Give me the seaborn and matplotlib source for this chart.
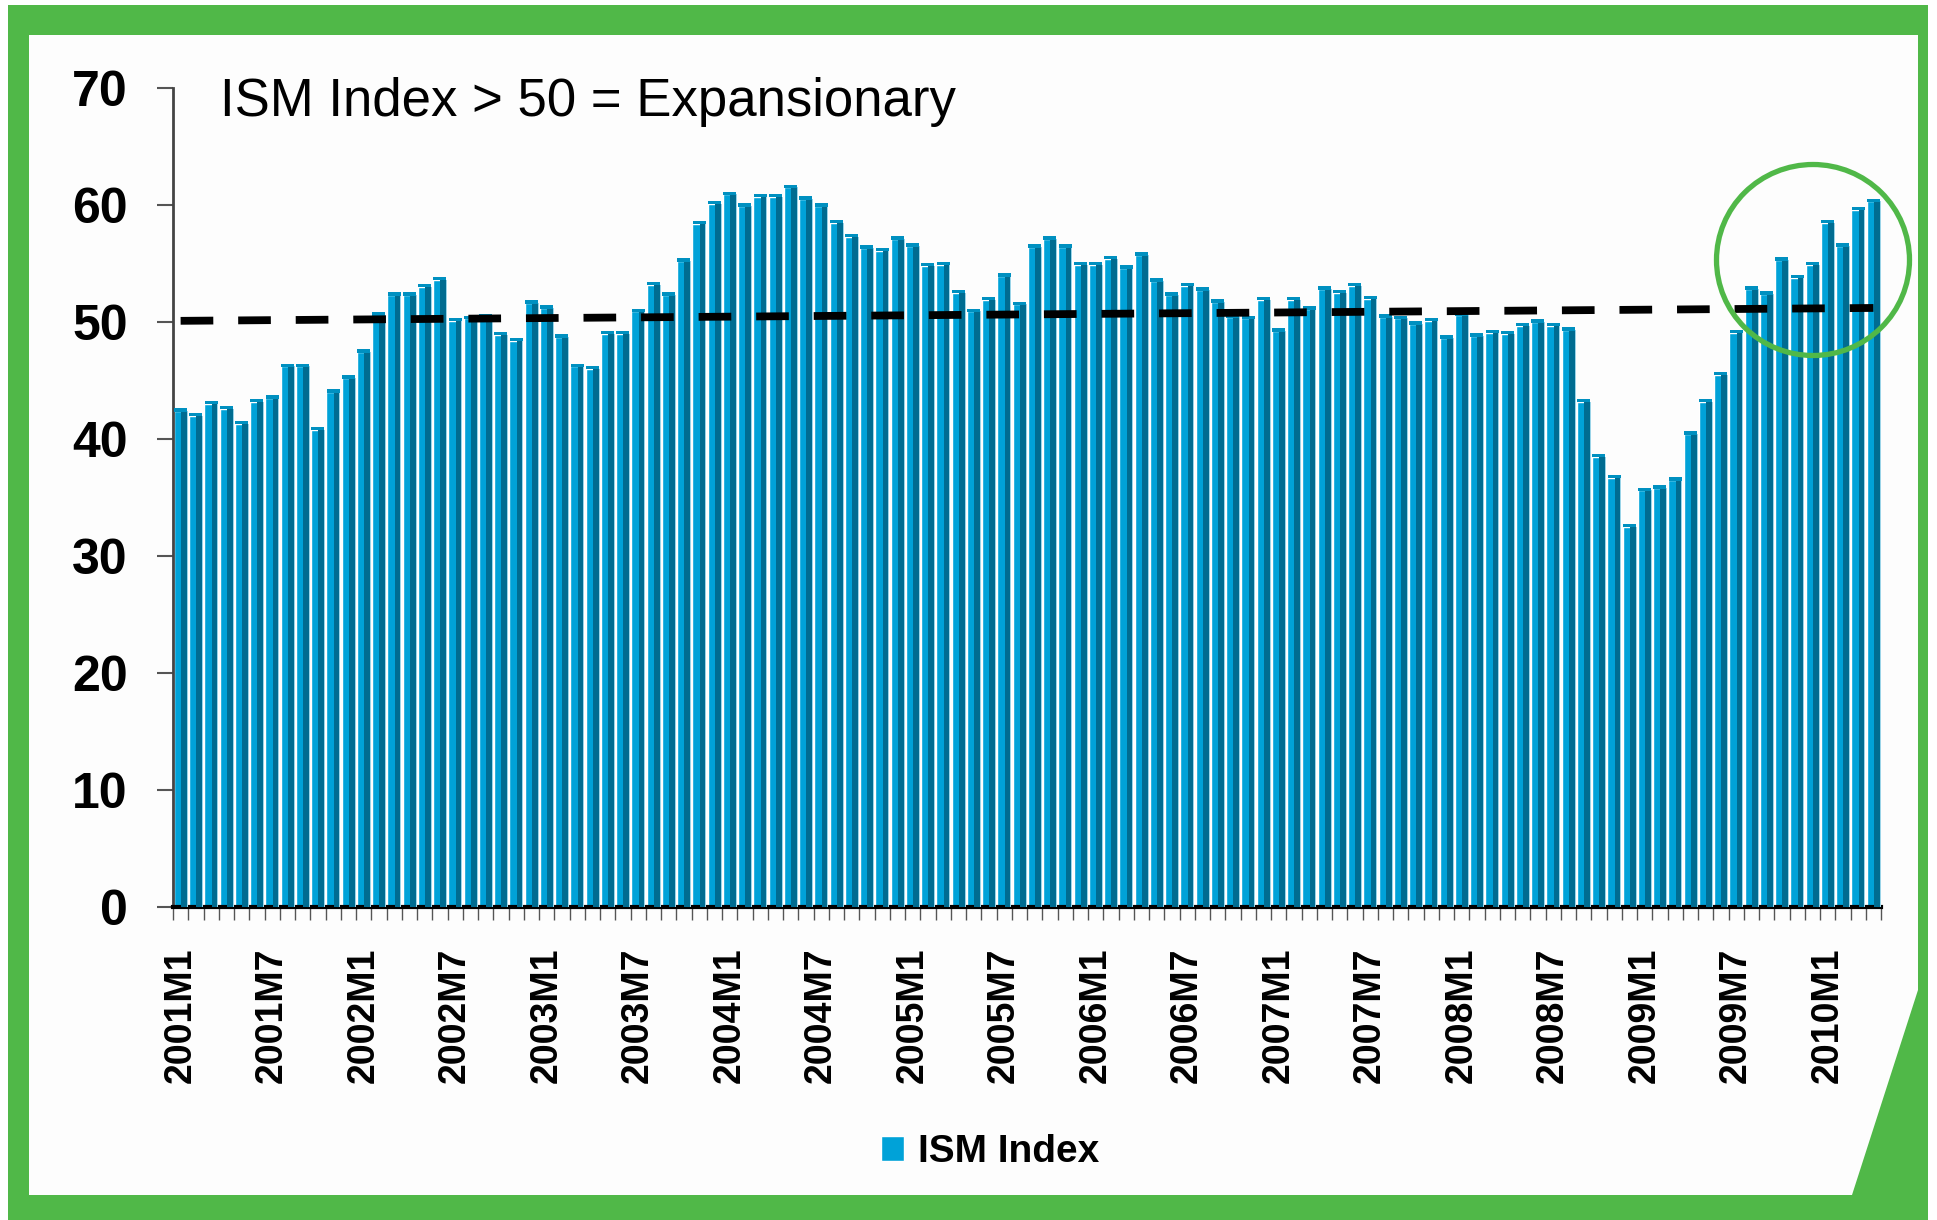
import numpy as np
import pandas as pd
import matplotlib
matplotlib.use("Agg")
import matplotlib.pyplot as plt
from matplotlib.patches import Rectangle, Ellipse, Polygon
import seaborn as sns

# ---------------- data ----------------
years = list(range(2001, 2011))
months = [f"{y}M{m}" for y in years for m in range(1, 13)][:112]  # 2001M1 .. 2010M4

ism_2001 = [42.4, 42.0, 43.0, 42.6, 41.3, 43.2, 43.5, 46.2, 46.2, 40.8, 44.0, 45.2]
ism_2002 = [47.4, 50.6, 52.3, 52.3, 53.0, 53.6, 50.1, 50.3, 50.4, 48.9, 48.4, 51.6]
ism_2003 = [51.2, 48.7, 46.2, 46.0, 49.0, 49.0, 50.9, 53.2, 52.3, 55.2, 58.4, 60.1]
ism_2004 = [60.9, 59.9, 60.7, 60.7, 61.5, 60.5, 59.9, 58.5, 57.3, 56.3, 56.1, 57.1]
ism_2005 = [56.5, 54.8, 54.9, 52.5, 50.9, 51.9, 53.9, 51.5, 56.4, 57.1, 56.4, 54.9]
ism_2006 = [54.9, 55.4, 54.6, 55.7, 53.5, 52.3, 53.1, 52.7, 51.7, 50.4, 50.3, 51.9]
ism_2007 = [49.2, 51.9, 51.1, 52.8, 52.5, 53.1, 52.0, 50.4, 50.3, 49.8, 50.1, 48.6]
ism_2008 = [50.6, 48.8, 49.1, 49.0, 49.7, 50.0, 49.7, 49.3, 43.2, 38.5, 36.7, 32.5]
ism_2009 = [35.6, 35.8, 36.5, 40.4, 43.2, 45.5, 49.1, 52.8, 52.4, 55.3, 53.8, 54.9]
ism_2010 = [58.5, 56.5, 59.6, 60.3]
ism_values = (ism_2001 + ism_2002 + ism_2003 + ism_2004 + ism_2005 +
              ism_2006 + ism_2007 + ism_2008 + ism_2009 + ism_2010)

threshold_x = ["2001M1", "2010M4"]
threshold_y = [50.1, 51.2]

y_ticks = [0, 10, 20, 30, 40, 50, 60, 70]
title_text = "ISM Index > 50 = Expansionary"
series_name = "ISM Index"

df = pd.DataFrame({"month": months, "ism": ism_values})

# ---------------- style ----------------
sns.set_style("white")
FONT = ["Liberation Sans", "DejaVu Sans"]
plt.rcParams["font.family"] = FONT
plt.rcParams["text.color"] = "black"
plt.rcParams["xtick.color"] = "black"
plt.rcParams["ytick.color"] = "black"

W, H = 1937, 1220
GREEN = "#50B848"
LIGHT = "#00A2D8"
DARK = "#006C91"
PALE = "#9AD4E8"

fig = plt.figure(figsize=(W / 100, H / 100), dpi=100)
fig.patch.set_facecolor("white")


def fx(px):
    return px / W


def fy(py):
    return 1 - py / H


# green frame
fig.add_artist(Rectangle((fx(8), 0), fx(1928 - 8), fy(5), transform=fig.transFigure,
                         facecolor=GREEN, edgecolor="none", zorder=-10))
fig.add_artist(Rectangle((fx(29), fy(1195)), fx(1918 - 29), fy(35) - fy(1195),
                         transform=fig.transFigure, facecolor="#FDFDFD",
                         edgecolor="none", zorder=-9))
fig.add_artist(Polygon([(fx(1852), fy(1195)), (fx(1918), fy(990)), (fx(1918), fy(1195))],
                       closed=True, transform=fig.transFigure, facecolor=GREEN,
                       edgecolor="none", zorder=-8))

ax = fig.add_axes([fx(173), fy(907), fx(1881 - 173), fy(88) - fy(907)])
ax.set_facecolor("none")

# main (light) bar faces
sns.barplot(data=df, x="month", y="ism", order=months, color=LIGHT, saturation=1,
            width=0.9, label=series_name, ax=ax, zorder=2)
if ax.get_legend() is not None:
    ax.get_legend().remove()

pos = np.arange(len(months))
vals = np.array(ism_values)
# dark shaded right side of each column
ax.bar(pos + 0.22, vals, width=0.38, color=DARK, linewidth=0, zorder=3)
# pale highlight edge
ax.bar(pos + 0.44, vals, width=0.06, color=PALE, linewidth=0, zorder=3)
# cap on top of each column
ax.bar(pos, np.full(len(vals), 0.3), bottom=vals - 0.05, width=0.85,
       color="#0090C0", linewidth=0, zorder=4)

# dashed threshold line
tx = [months.index(m) for m in threshold_x]
ax.plot(tx, threshold_y, color="black", lw=5.6, linestyle=(0, (4.2, 3.2)),
        dash_capstyle="butt", zorder=6)

ax.set_xlim(-0.5, len(months) - 0.5)
ax.set_ylim(0, 70)
ax.set_xlabel("")
ax.set_ylabel("")

# axes / spines
for s in ["top", "right"]:
    ax.spines[s].set_visible(False)
ax.spines["left"].set_color("#444444")
ax.spines["left"].set_linewidth(2)
ax.spines["bottom"].set_color("black")
ax.spines["bottom"].set_linewidth(3)

ax.set_yticks(y_ticks)
ax.set_yticklabels([str(v) for v in y_ticks], fontsize=36, fontweight="bold",
                   color="black")
ax.tick_params(axis="y", left=True, length=11.5, width=1.5, color="#555555", pad=21,
               labelcolor="black")

major_pos = list(range(0, len(months), 6))
ax.set_xticks(major_pos)
ax.set_xticklabels([months[i] for i in major_pos], rotation=90, fontsize=27,
                   fontweight="bold", va="top", ha="center", color="black")
ax.tick_params(axis="x", which="major", bottom=True, length=0, pad=29,
               labelcolor="black")
ax.set_xticks(np.arange(-0.5, len(months), 1), minor=True)
ax.tick_params(axis="x", which="minor", bottom=True, length=9, width=1, color="#555555")

# title
fig.text(fx(220), fy(116), title_text, fontsize=38, ha="left", va="baseline",
         color="black")

# legend
handles = [ax.containers[0]]
leg = fig.legend(handles, [series_name], loc="center",
                 bbox_to_anchor=(fx(990), fy(1152)), frameon=False,
                 prop={"size": 28, "weight": "bold"}, handlelength=0.6,
                 handleheight=0.6, handletextpad=0.35, labelcolor="black")

# highlight circle
fig.add_artist(Ellipse((fx(1813), fy(260)), fx(193), 191 / H, transform=fig.transFigure,
                       fill=False, edgecolor=GREEN, lw=3.8, zorder=10))

fig.savefig("out.png", dpi=100)
